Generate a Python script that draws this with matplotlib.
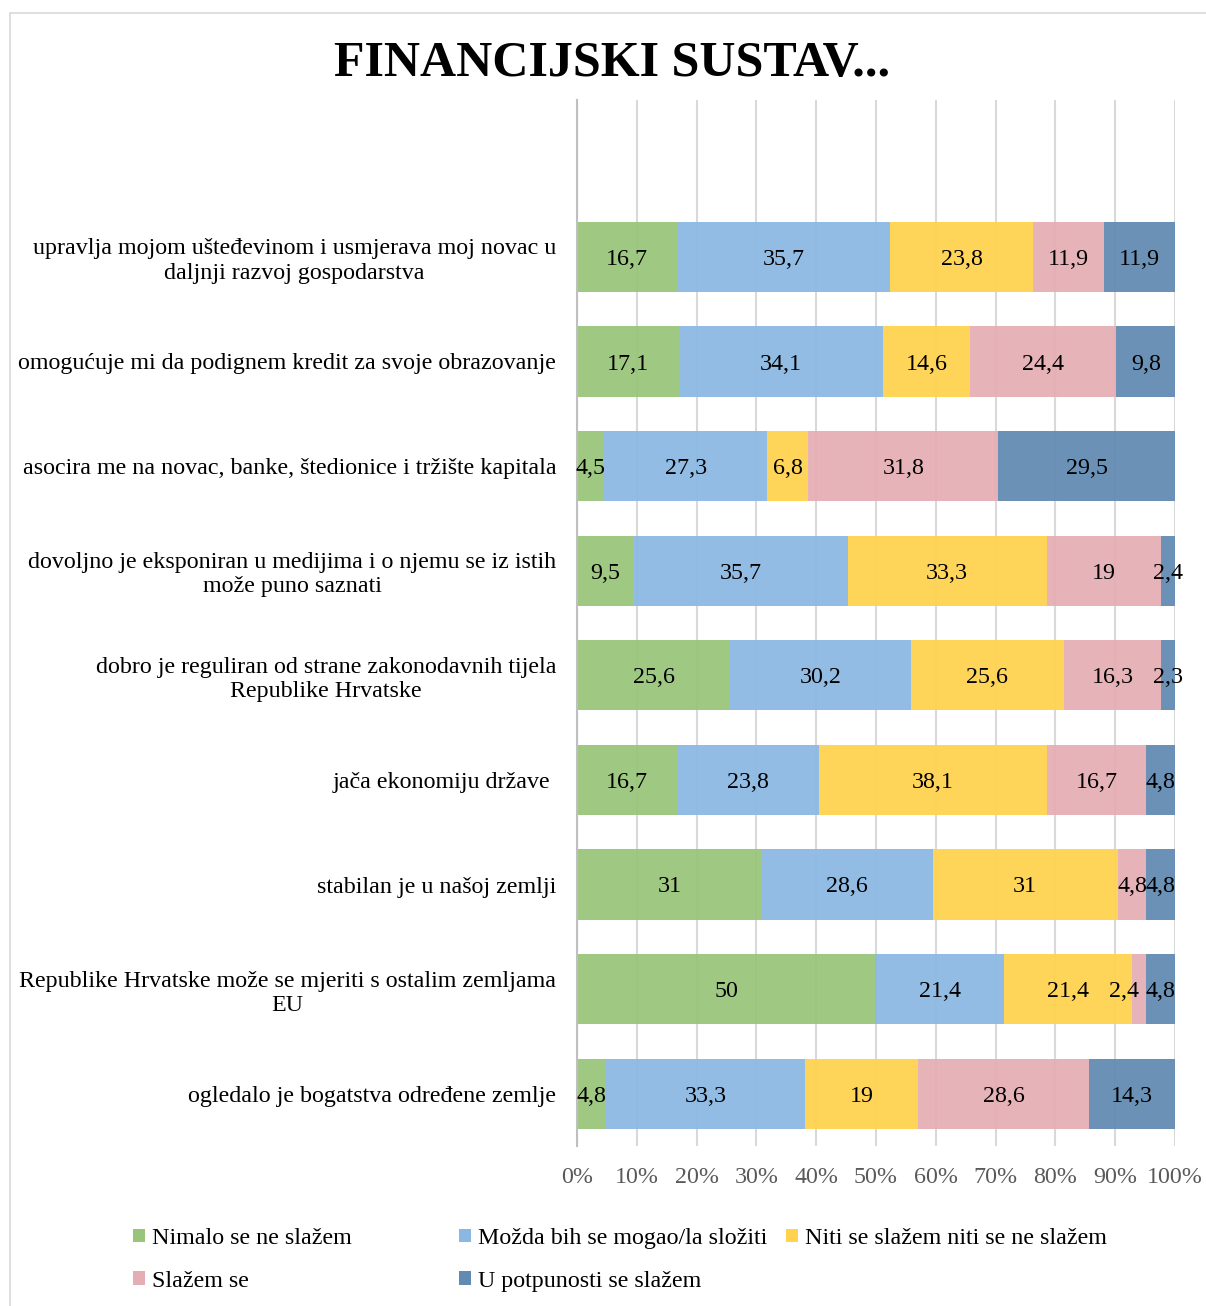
import matplotlib
matplotlib.use("Agg")
import matplotlib.pyplot as plt
from matplotlib.patches import Rectangle, Patch
import numpy as np

plt.rcParams['font.family'] = ['Liberation Serif', 'DejaVu Serif']

categories = [
    "upravlja mojom ušteđevinom i usmjerava moj novac u\ndaljnji razvoj gospodarstva",
    "omogućuje mi da podignem kredit za svoje obrazovanje",
    "asocira me na novac, banke, štedionice i tržište kapitala",
    "dovoljno je eksponiran u medijima i o njemu se iz istih\nmože puno saznati",
    "dobro je reguliran od strane zakonodavnih tijela\nRepublike Hrvatske",
    "jača ekonomiju države ",
    "stabilan je u našoj zemlji",
    "Republike Hrvatske može se mjeriti s ostalim zemljama\nEU",
    "ogledalo je bogatstva određene zemlje",
]
series_names = [
    "Nimalo se ne slažem",
    "Možda bih se mogao/la složiti",
    "Niti se slažem niti se ne slažem",
    "Slažem se",
    "U potpunosti se slažem",
]
nimalo      = [16.7, 17.1, 4.5, 9.5, 25.6, 16.7, 31, 50, 4.8]
mozda       = [35.7, 34.1, 27.3, 35.7, 30.2, 23.8, 28.6, 21.4, 33.3]
niti        = [23.8, 14.6, 6.8, 33.3, 25.6, 38.1, 31, 21.4, 19]
slazem      = [11.9, 24.4, 31.8, 19, 16.3, 16.7, 4.8, 2.4, 28.6]
potpunosti  = [11.9, 9.8, 29.5, 2.4, 2.3, 4.8, 4.8, 4.8, 14.3]
colors = ["#99C57A", "#8BB8E2", "#FFD34E", "#E5AEB4", "#628BB2"]
xticks = [0, 10, 20, 30, 40, 50, 60, 70, 80, 90, 100]

FS = 17.3
W, H = 1206, 1306
fig = plt.figure(figsize=(W / 100, H / 100), dpi=100)

# chart frame
fig.patches.append(Rectangle((10 / W, -0.01), 1.02, 1 - 13 / H + 0.01, transform=fig.transFigure,
                             fill=False, edgecolor="#D9D9D9", linewidth=1.2))

ax = fig.add_axes([577 / W, 1 - 1146 / H, (1175 - 577) / W, (1146 - 100) / H])

data = np.array([nimalo, mozda, niti, slazem, potpunosti])
totals = data.sum(axis=0)
pct = data / totals * 100
n = len(categories)
ypos = np.arange(n)[::-1]  # first category at top

def fmt(v):
    if abs(v - round(v)) < 1e-9:
        return str(int(round(v)))
    return f"{v:.1f}".replace(".", ",")

left = np.zeros(n)
for i, name in enumerate(series_names):
    bars = ax.barh(ypos, pct[i], left=left, height=0.67, color=colors[i], alpha=0.94,
                   label=name, zorder=2)
    labs = ax.bar_label(bars, labels=[fmt(v) for v in data[i]], label_type='center',
                        fontsize=FS, color='black')
    for t in labs:
        t.set_va('center_baseline')
    # Excel nudges the crowded small label in row 8 to the left
    if i == 3:
        labs[7].set_ha('right')
    left += pct[i]

ax.set_ylim(-0.5, n + 0.5)
ax.set_xlim(0, 100)
ax.set_yticks(ypos)
ax.set_yticklabels(categories, fontsize=FS)
for lab in ax.get_yticklabels():
    lab.set_multialignment('center')
ax.set_xticks(xticks)
ax.set_xticklabels([f"{t}%" for t in xticks], fontsize=FS, color="#595959")
ax.tick_params(axis='y', length=0, pad=15)
ax.tick_params(axis='x', length=0, pad=15)
ax.grid(axis='x', color="#D9D9D9", linewidth=1.5, zorder=0)
ax.set_axisbelow(True)
for s in ['top', 'right', 'bottom']:
    ax.spines[s].set_visible(False)
ax.spines['left'].set_color("#BFBFBF")
ax.spines['left'].set_linewidth(1.5)

fig.text(612 / W, 1 - 64 / H, "FINANCIJSKI SUSTAV...", ha='center', va='center',
         fontsize=36, fontweight='bold')

handles = [Patch(facecolor=c, edgecolor='none') for c in colors]
legend_cols = [([0, 3], 133), ([1, 4], 459), ([2], 786)]
for idxs, xpix in legend_cols:
    leg = fig.legend([handles[k] for k in idxs], [series_names[k] for k in idxs],
                     loc='upper left', bbox_to_anchor=(xpix / W, 1 - 1228 / H),
                     frameon=False, fontsize=FS, handlelength=0.5, handleheight=0.5,
                     handletextpad=0.3, labelspacing=0.9, borderpad=0, borderaxespad=0)

fig.savefig("out.png", dpi=100)
